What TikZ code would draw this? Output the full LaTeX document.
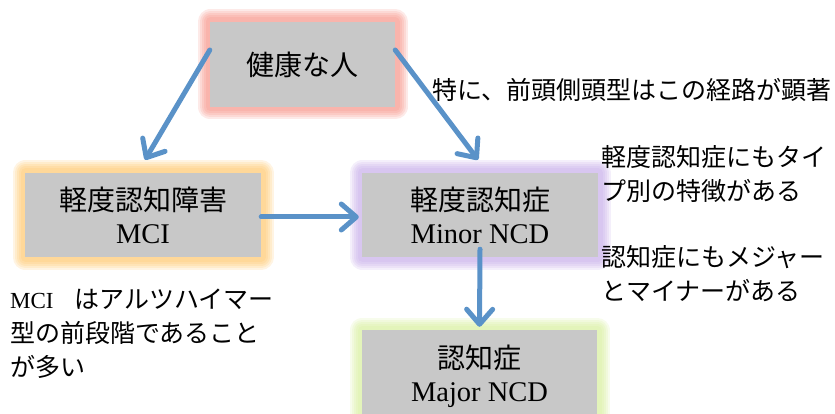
\documentclass[tikz,border=0pt]{standalone}
\usepackage{fontspec}
\setmainfont{Liberation Serif}
\newfontfamily\cjk{Noto Sans CJK JP}
\usetikzlibrary{arrows.meta}
\definecolor{boxgray}{RGB}{200,200,200}
\definecolor{arrowblue}{RGB}{90,146,200}
\definecolor{glowred}{RGB}{246,140,128}
\definecolor{gloworange}{RGB}{255,196,100}
\definecolor{glowpurple}{RGB}{196,168,232}
\definecolor{glowgreen}{RGB}{212,238,150}
\tikzset{
  glowbox/.style={fill=boxgray, inner sep=0pt, align=center,
    font=\fontsize{28.5}{33}\selectfont,
    preaction={draw=#1, line width=25pt, opacity=0.18, line join=round},
    preaction={draw=#1, line width=21pt, opacity=0.18, line join=round},
    preaction={draw=#1, line width=17pt, opacity=0.2, line join=round},
    preaction={draw=#1, line width=13pt, opacity=0.2, line join=round},
    preaction={draw=#1, line width=9pt, opacity=0.2, line join=round}},
  flow/.style={draw=arrowblue, line width=5pt, line cap=round,
    -{Straight Barb[length=15pt,width=26pt,round]}},
  note/.style={inner sep=0pt, align=left, anchor=west, font=\fontsize{25}{34}\selectfont}
}
\begin{document}
\begin{tikzpicture}[x=1pt,y=-1pt]
\useasboundingbox (0,0) rectangle (835,414);
\clip (0,0) rectangle (835,414);
\node[glowbox=glowred, minimum width=185pt, minimum height=85pt] (h) at (302.5,64.5) {\cjk\fontsize{28}{33}\selectfont 健康な人};
\node[glowbox=gloworange, minimum width=236pt, minimum height=84pt] (m) at (143,215) {{\cjk\fontsize{28}{33}\selectfont 軽度認知障害}\\MCI};
\node[glowbox=glowpurple, minimum width=236pt, minimum height=84pt] (n) at (480,215) {{\cjk\fontsize{28}{33}\selectfont 軽度認知症}\\Minor NCD};
\node[glowbox=glowgreen, minimum width=235pt, minimum height=92pt] (j) at (479.5,376) {{\cjk\fontsize{28}{33}\selectfont 認知症}\\Major NCD};
\draw[flow] ([yshift=14.5pt]h.west) -- ([xshift=2pt,yshift=13pt]m.north);
\draw[flow] ([yshift=14.5pt]h.east) -- ([xshift=-2pt,yshift=13pt]n.north);
\draw[flow] ([yshift=-2pt]m.east) -- ([xshift=-3pt,yshift=-2pt]n.west);
\draw[flow] ([yshift=8pt]n.south) -- ([yshift=3pt]j.north);
\node[note] (t1) at (432,90) {\cjk 特に、前頭側頭型はこの経路が顕著};
\node[note] (t2) at (601,174.5) {\cjk 軽度認知症にもタイ\\\cjk プ別の特徴がある};
\node[note] (t3) at (601,273.5) {\cjk 認知症にもメジャー\\\cjk とマイナーがある};
\node[note] (t4) at (10,334) {{\fontsize{23}{34}\selectfont MCI}\hspace{21pt}{\cjk はアルツハイマー}\\\cjk 型の前段階であること\\\cjk が多い};
\end{tikzpicture}
\end{document}
